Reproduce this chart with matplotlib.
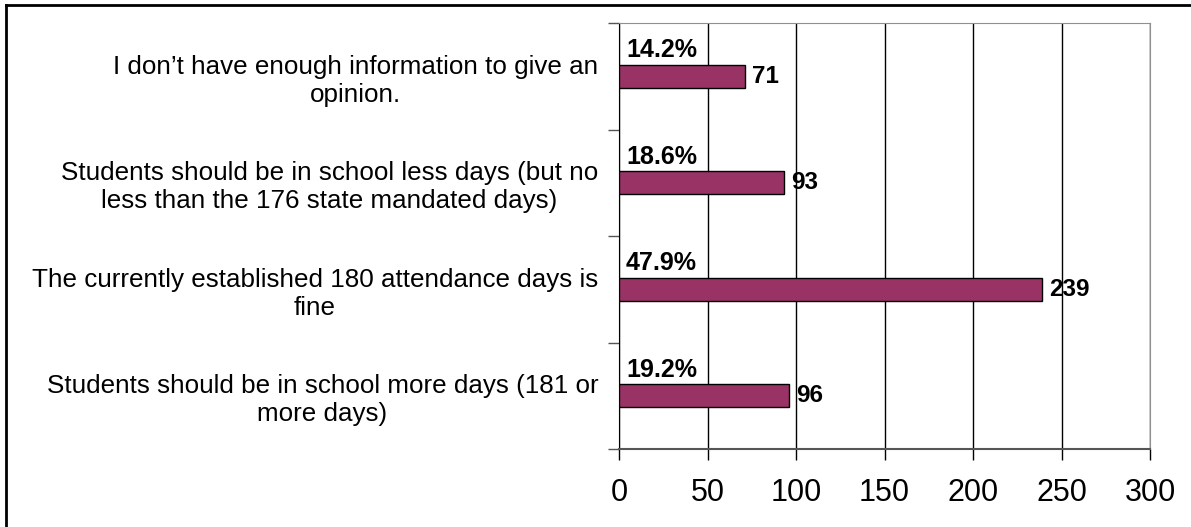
import matplotlib.pyplot as plt
from matplotlib.lines import Line2D

plt.rcParams['font.family'] = ['Liberation Sans', 'DejaVu Sans']

# data, bottom to top
answers = ['Students should be in school more days (181 or\nmore days)',
           'The currently established 180 attendance days is\nfine',
           'Students should be in school less days (but no\nless than the 176 state mandated days)',
           'I don\u2019t have enough information to give an\nopinion.']
counts = [96, 239, 93, 71]
percents = ['19.2%', '47.9%', '18.6%', '14.2%']

fig = plt.figure(figsize=(11.91, 5.27), dpi=100)
ax = fig.add_axes([619/1191, 78/527, 531/1191, 426/527])

pos = list(range(len(answers)))
ax.barh(pos, counts, height=0.22, color='#993366', edgecolor='black', linewidth=1, zorder=3)

for p, c, pc in zip(pos, counts, percents):
    ax.text(c + 4, p, str(c), va='center', ha='left', fontsize=17.5, fontweight='bold', zorder=4)
    ax.text(4, p + 0.13, pc, va='bottom', ha='left', fontsize=18, fontweight='bold', zorder=4)

ax.set_xlim(0, 300)
ax.set_ylim(-0.5, 3.5)
ax.set_xticks(range(0, 301, 50))
ax.xaxis.grid(True, color='black', linewidth=1, zorder=0)
ax.tick_params(axis='x', labelsize=22, length=8, width=1, pad=13)

ax.set_yticks(pos)
ax.set_yticklabels(answers, fontsize=18.7, multialignment='center', linespacing=1.22)
ax.tick_params(axis='y', which='major', length=0, pad=15)
ax.set_yticks([-0.5, 0.5, 1.5, 2.5, 3.5], minor=True)
ax.tick_params(axis='y', which='minor', length=8, width=1, color='#555555')

ax.spines['top'].set_color('#909090')
ax.spines['right'].set_color('#909090')
ax.spines['bottom'].set_color('#555555')
ax.spines['bottom'].set_linewidth(1.5)
ax.spines['left'].set_color('black')

# outer frame (left and top only visible)
fig.add_artist(Line2D([5.5/1191, 5.5/1191], [0, 1 - 5/527], color='black', linewidth=2))
fig.add_artist(Line2D([5.5/1191, 1], [1 - 5/527, 1 - 5/527], color='black', linewidth=2))

plt.savefig('out.png', dpi=100)
